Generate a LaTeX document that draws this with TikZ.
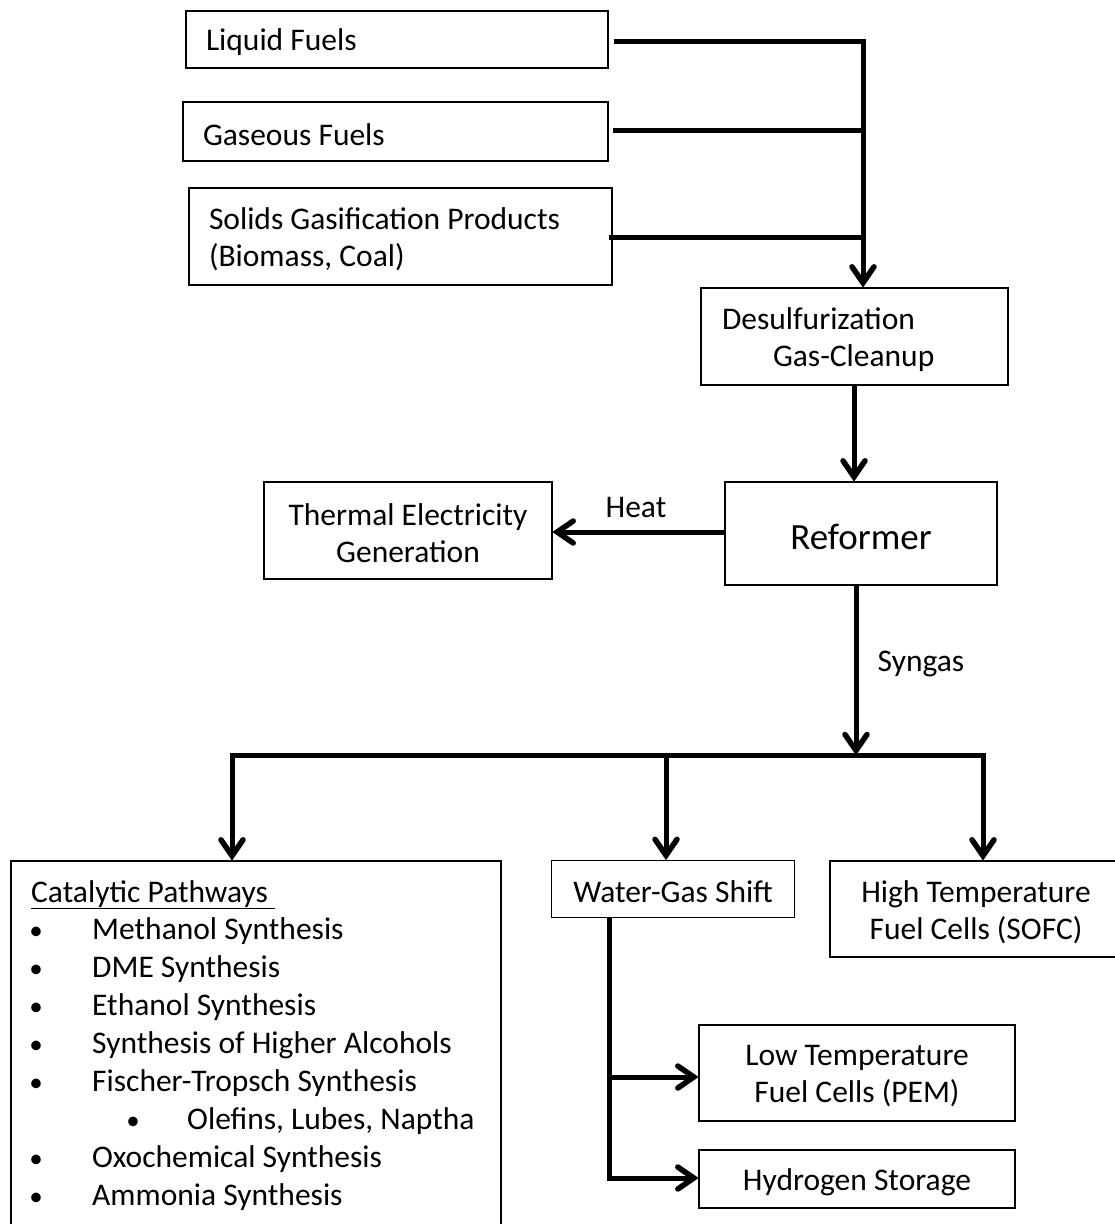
\documentclass[tikz,border=0pt]{standalone}
\usepackage{fontspec}
\setmainfont{Carlito}
\newcommand\fs{\fontsize{31.5}{37}\selectfont}
\newcommand\fsbig{\fontsize{37}{44}\selectfont}
\newcommand\bul{{\fontsize{27}{30}\selectfont •}}
\newcommand\dn[1]{\raisebox{-3pt}[\height][\depth]{#1}}
\tikzset{
  box/.style={draw, line width=1.4pt, inner sep=0pt, font=\fs},
  conn/.style={line width=5pt},
  lbl/.style={inner sep=0pt, font=\fs},
  headst/.style={line width=5.5pt, line cap=round, line join=miter, miter limit=10},
  chevdown/.pic={\draw[headst] (-11,-16) -- (0,0) -- (11,-16);},
  chevleft/.pic={\draw[headst] (16,-11) -- (0,0) -- (16,11);},
  chevright/.pic={\draw[headst] (-16,-11) -- (0,0) -- (-16,11);},
}
\begin{document}
\begin{tikzpicture}[x=1pt,y=-1pt]
\useasboundingbox (0,0) rectangle (1115,1224);
\fill[white] (0,0) rectangle (1115,1224);
\clip (0,0) rectangle (1115,1224);

% top sources
\node[box, minimum width=422, minimum height=57, text width=382, align=flush left] (liquid) at (397,39.5) {\dn{Liquid Fuels}};
\node[box, minimum width=425, minimum height=59, text width=385, align=flush left] (gas) at (395.5,131.5) {\dn{Gaseous Fuels}};
\node[box, minimum width=423, minimum height=97, text width=383, align=flush left] (solid) at (400.5,236.5) {\dn{Solids Gasification Products}\\\dn{(Biomass, Coal)}};

\node[box, minimum width=307, minimum height=97, text width=265, align=flush left] (desulf) at (854.5,336.5) {\dn{Desulfurization}\\\hspace*{51pt}\dn{Gas-Cleanup}};
\node[box, minimum width=272, minimum height=103, font=\fsbig] (reformer) at (861,533.5) {\dn{Reformer}};
\node[box, minimum width=288, minimum height=97, align=center] (thermal) at (408,530.5) {\dn{Thermal Electricity}\\\dn{Generation}};

% bottom
\node[box, minimum width=490, minimum height=399] (cat) at (256,1060.5) {};
\node[box, minimum width=243, minimum height=57] (wgs) at (673,889) {\dn{Water-Gas Shift}};
\node[box, minimum width=292, minimum height=96, align=center] (sofc) at (976,909) {\dn{High Temperature}\\\dn{Fuel Cells (SOFC)}};
\node[box, minimum width=316, minimum height=96, align=center] (lt) at (857,1073) {\dn{Low Temperature}\\\dn{Fuel Cells (PEM)}};
\node[box, minimum width=316, minimum height=58, align=center] (h2) at (857,1179) {\dn{Hydrogen Storage}};

% catalytic list
\node[lbl, anchor=base west] (cat0) at (31,902) {\underline{Catalytic Pathways }};
\foreach \y/\t [count=\i] in {939/Methanol Synthesis, 977/DME Synthesis, 1015/Ethanol Synthesis, 1053/Synthesis of Higher Alcohols, 1091/Fischer-Tropsch Synthesis, 1167/Oxochemical Synthesis, 1205/Ammonia Synthesis}{
  \node[lbl, anchor=base] (bul\i) at (36,\y) {\bul};
  \node[lbl, anchor=base west] (cat\i) at (92,\y) {\t};
}
\node[lbl, anchor=base] (bulsub) at (133,1129) {\bul};
\node[lbl, anchor=base west] (catsub) at (187,1129) {Olefins, Lubes, Naptha};

% feed lines
\coordinate (j1) at (863,41);
\coordinate (j2) at (863,130);
\coordinate (j3) at (863,237);
\draw[conn] ([xshift=5pt]liquid.east |- j1) -- (j1);
\draw[conn] ([xshift=4pt]gas.east |- j2) -- (j2);
\draw[conn] ([xshift=-4pt]solid.east |- j3) -- (j3);
\draw[conn] ([yshift=2.5pt]j1) -- ([yshift=4.5pt]j1 |- desulf.north) pic {chevdown};

\coordinate (dx) at (854,0);
\draw[conn] (dx |- desulf.south) -- ([yshift=4.5pt]dx |- reformer.north) pic {chevdown};

% heat
\draw[conn] (reformer.west |- 0,532) -- ([xshift=4.5pt]thermal.east |- 0,532) pic {chevleft};
\node[lbl] (heat) at (636,508) {Heat};

% syngas
\coordinate (sx) at (856,0);
\coordinate (busL) at (232,755.5);
\coordinate (busM) at (666,755.5);
\coordinate (busR) at (983,755.5);
\draw[conn] (sx |- reformer.south) -- ([yshift=5pt]sx |- busL) pic {chevdown};
\node[lbl] (syngas) at (921,664) {Syngas};
\draw[conn, line join=miter] ([yshift=4.5pt]busL |- cat.north) -- (busL) -- (busR) -- ([yshift=4.5pt]busR |- sofc.north);
\draw[conn] (busL) -- ([yshift=4.5pt]busL |- cat.north) pic {chevdown};
\draw[conn] (busR) -- ([yshift=4.5pt]busR |- sofc.north) pic {chevdown};
\draw[conn] (busM) -- ([yshift=4.5pt]busM |- wgs.north) pic {chevdown};

% water-gas shift branch
\coordinate (b1) at (609,1077);
\coordinate (b2) at (609,1178);
\draw[conn] (609,0 |- wgs.south) -- ([yshift=-3pt]b2);
\draw[conn] (b1) -- ([xshift=-4.5pt]b1 -| lt.west) pic {chevright};
\draw[conn] (b2) -- ([xshift=-4.5pt]b2 -| h2.west) pic {chevright};
\end{tikzpicture}
\end{document}
